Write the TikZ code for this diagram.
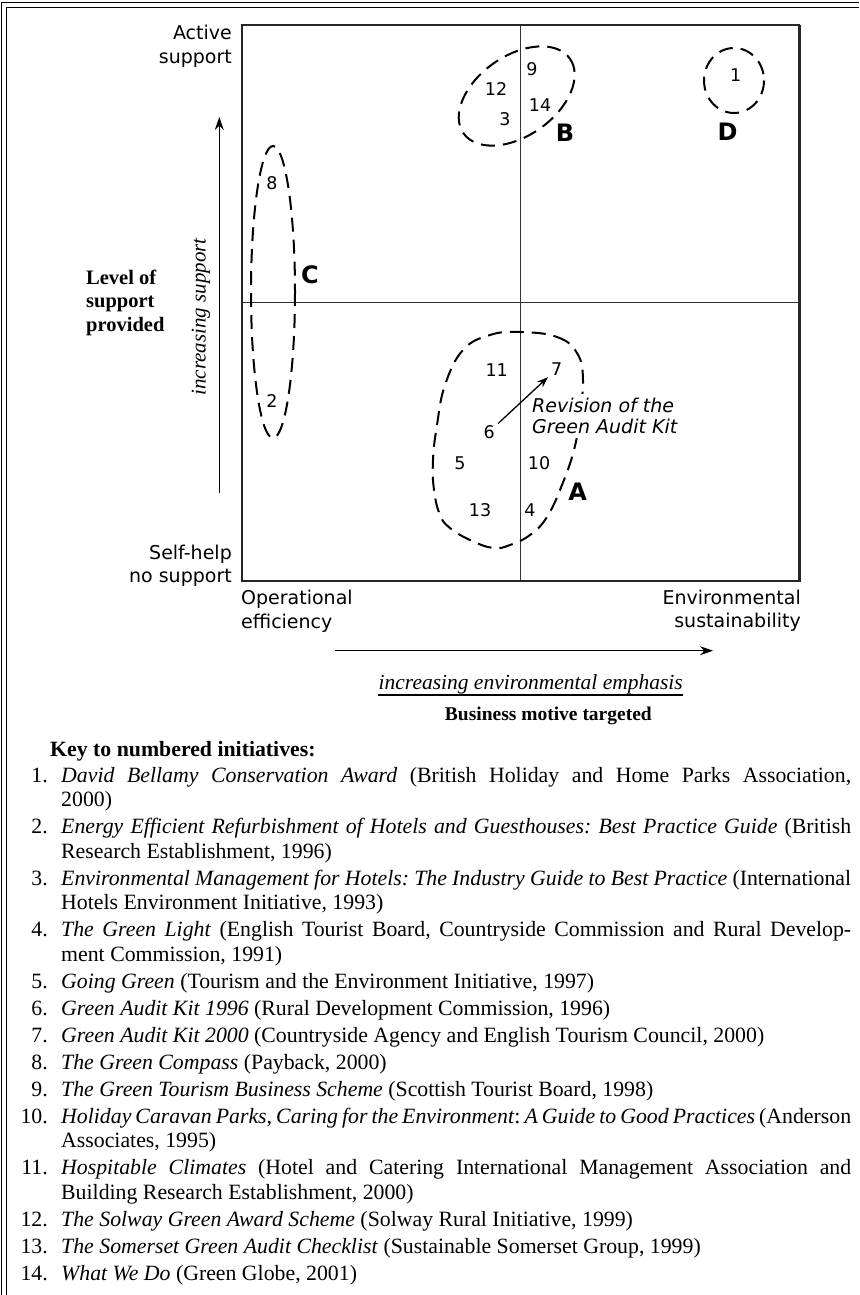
\documentclass[tikz,border=0pt]{standalone}
\usepackage{fontspec}
\setmainfont{Liberation Serif}
\newfontfamily\chartsans{DejaVu Sans}
\usetikzlibrary{arrows.meta}
% one justified line of the key, spread to the full text width
\newcommand\jline[1]{\makebox[790pt][s]{#1}}

\begin{document}
\frenchspacing
\begin{tikzpicture}[x=1pt,y=-1pt,
  frameline/.style={line width=1.1pt},
  axisbox/.style={draw=black!85, line width=2pt},
  midline/.style={draw=black!80, line width=1.4pt},
  cluster/.style={draw=black, line width=2pt, dash pattern=on 14pt off 8pt},
  num/.style={font=\chartsans\fontsize{17.5}{20}\selectfont, inner sep=3pt},
  grp/.style={font=\chartsans\bfseries\fontsize{24}{28}\selectfont, inner sep=0pt},
  axlabel/.style={font=\chartsans\fontsize{19}{24}\selectfont, inner sep=0pt},
  note/.style={font=\chartsans\itshape\fontsize{19}{21}\selectfont, inner xsep=1pt, inner ysep=4pt, fill=white, anchor=base west},
  trend/.style={line width=1.2pt, -{Stealth[length=13pt, width=9pt]}},
  serifbold/.style={font=\bfseries\fontsize{20.5}{24}\selectfont, inner sep=0pt},
  keytext/.style={font=\fontsize{21.8}{25}\selectfont, inner sep=0pt, anchor=base west},
  keynum/.style={font=\fontsize{21.8}{25}\selectfont, inner sep=0pt, anchor=base east},
]
\useasboundingbox (0,0) rectangle (859,1295);
\fill[white] (0,0) rectangle (859,1295);

% double rule along the left and top edges
\draw[frameline] (1.7,1295) -- (1.7,2.7) -- (859,2.7);
\draw[frameline] (6.7,1295) -- (6.7,7.3) -- (859,7.3);

% quadrant grid
\draw[midline] (520.7,24.7) -- (520.7,580.7);
\draw[midline] (242,302.7) -- (799,302.7);
\draw[axisbox] (242,24.7) rectangle (799,580.7);
\draw[draw=black!85, line width=3pt] (799,24.7) -- (799,581.7);

% axis end labels
\node[axlabel, anchor=base east] (act1) at (232,39.3) {Active};
\node[axlabel, anchor=base east] (act2) at (232,63.3) {support};
\node[axlabel, anchor=base east] (self1) at (232,559.3) {Self-help};
\node[axlabel, anchor=base east] (self2) at (232,582.3) {no support};
\node[axlabel, anchor=base west] (op1) at (241,604) {Operational};
\node[axlabel, anchor=base west] (op2) at (241,628) {efficiency};
\node[axlabel, anchor=base east] (env1) at (801,604) {Environmental};
\node[axlabel, anchor=base east] (env2) at (801,627.5) {sustainability};

% vertical axis title and trend arrow
\node[serifbold, anchor=base west] (lev1) at (86,284) {Level of};
\node[serifbold, anchor=base west] (lev2) at (86,307.5) {support};
\node[serifbold, anchor=base west] (lev3) at (86,331) {provided};
\node[font=\itshape\fontsize{21}{24}\selectfont, inner sep=0pt, rotate=90, anchor=base] (incsup) at (205.7,317) {increasing support};
\coordinate (vlow) at (219.3,493);
\coordinate (vhigh) at (219.3,117);
\draw[trend] (vlow) -- (vhigh);

% horizontal trend arrow and axis title
\coordinate (hleft) at (335,650.7);
\coordinate (hright) at (713,650.7);
\draw[trend] (hleft) -- (hright);
\node[font=\itshape\fontsize{21.5}{24}\selectfont, inner sep=0pt, anchor=base east] (emph) at (683,689) {increasing environmental emphasis};
\draw[line width=2.2pt] ([yshift=-6pt]emph.base west) -- ([yshift=-6pt]emph.base east);
\node[font=\bfseries\fontsize{19.5}{23}\selectfont, inner sep=0pt, anchor=base east] (motive) at (652,720) {Business motive targeted};

% cluster C
\draw[cluster] (273,292) ellipse [x radius=22, y radius=146];
\node[num] (n8) at (272,183) {8};
\node[num] (n2) at (272,401) {2};
\node[grp] (gC) at (310,275) {C};

% cluster B
\draw[cluster, rotate around={35:(516.7,96)}] (516.7,96) ellipse [x radius=65, y radius=40];
\node[num] (n9) at (532,69) {9};
\node[num] (n12) at (496,89) {12};
\node[num] (n14) at (540,105) {14};
\node[num] (n3) at (505,119) {3};
\node[grp] (gB) at (565,133) {B};

% cluster D
\draw[cluster] (734,80.5) ellipse [x radius=30, y radius=32.5];
\node[num] (n1) at (735.7,75) {1};
\node[grp] (gD) at (727.7,132) {D};

% cluster A
\draw[cluster] plot[smooth cycle, tension=0.7] coordinates {
  (520,332) (557,337) (577,353) (583,380) (579,420) (574,450) (562,485)
  (547,517) (530,535) (510,545) (493,548) (470,540) (450,528) (440,515)
  (434,490) (433,460) (437,425) (445,385) (463,350) (490,335)};
\node[num] (n11) at (496.7,370) {11};
\node[num] (n7) at (556.7,369) {7};
\node[num] (n6) at (489.3,431.7) {6};
\node[num] (n5) at (460,463) {5};
\node[num] (n10) at (539,463) {10};
\node[num] (n13) at (480,510) {13};
\node[num] (n4) at (530,510) {4};
\node[grp] (gA) at (577.7,492) {A};
\node[note] (rev1) at (531,412.7) {Revision of the};
\node[note] (rev2) at (531,433.3) {Green Audit Kit};
\draw[line width=1.3pt, -{Stealth[length=11pt, width=8pt]}] (n6) -- (n7);

% key to the numbered initiatives
\node[font=\bfseries\fontsize{21.8}{25}\selectfont, inner sep=0pt, anchor=base west] (keyhead) at (50,756) {Key to numbered initiatives:};

\node[keynum] (k1) at (48,782) {1.};
\node[keytext] (k1a) at (61,782) {\jline{\textit{David Bellamy Conservation Award} (British Holiday and Home Parks Association,}};
\node[keytext] (k1b) at (61,806.5) {2000)};

\node[keynum] (k2) at (48,833.5) {2.};
\node[keytext] (k2a) at (61,833.5) {\jline{\textit{Energy Efficient Refurbishment of Hotels and Guesthouses: Best Practice Guide} (British}};
\node[keytext] (k2b) at (61,858) {Research Establishment, 1996)};

\node[keynum] (k3) at (48,885) {3.};
\node[keytext] (k3a) at (61,885) {\jline{\textit{Environmental Management for Hotels: The Industry Guide to Best Practice} (International}};
\node[keytext] (k3b) at (61,909.5) {Hotels Environment Initiative, 1993)};

\node[keynum] (k4) at (48,936.5) {4.};
\node[keytext] (k4a) at (61,936.5) {\jline{\textit{The Green Light} (English Tourist Board, Countryside Commission and Rural Develop-}};
\node[keytext] (k4b) at (61,961) {ment Commission, 1991)};

\node[keynum] (k5) at (48,988) {5.};
\node[keytext] (k5a) at (61,988) {\textit{Going Green} (Tourism and the Environment Initiative, 1997)};

\node[keynum] (k6) at (48,1015) {6.};
\node[keytext] (k6a) at (61,1015) {\textit{Green Audit Kit 1996} (Rural Development Commission, 1996)};

\node[keynum] (k7) at (48,1042) {7.};
\node[keytext] (k7a) at (61,1042) {\textit{Green Audit Kit 2000} (Countryside Agency and English Tourism Council, 2000)};

\node[keynum] (k8) at (48,1069) {8.};
\node[keytext] (k8a) at (61,1069) {\textit{The Green Compass} (Payback, 2000)};

\node[keynum] (k9) at (48,1096) {9.};
\node[keytext] (k9a) at (61,1096) {\textit{The Green Tourism Business Scheme} (Scottish Tourist Board, 1998)};

\node[keynum] (k10) at (48,1123) {10.};
\node[keytext] (k10a) at (61,1123) {\jline{\textit{Holiday Caravan Parks}, \textit{Caring for the Environment}: \textit{A Guide to Good Practices} (Anderson}};
\node[keytext] (k10b) at (61,1147.5) {Associates, 1995)};

\node[keynum] (k11) at (48,1174.5) {11.};
\node[keytext] (k11a) at (61,1174.5) {\jline{\textit{Hospitable Climates} (Hotel and Catering International Management Association and}};
\node[keytext] (k11b) at (61,1199) {Building Research Establishment, 2000)};

\node[keynum] (k12) at (48,1226) {12.};
\node[keytext] (k12a) at (61,1226) {\textit{The Solway Green Award Scheme} (Solway Rural Initiative, 1999)};

\node[keynum] (k13) at (48,1253) {13.};
\node[keytext] (k13a) at (61,1253) {\textit{The Somerset Green Audit Checklist} (Sustainable Somerset Group, 1999)};

\node[keynum] (k14) at (48,1280) {14.};
\node[keytext] (k14a) at (61,1280) {\textit{What We Do} (Green Globe, 2001)};
\end{tikzpicture}
\end{document}
